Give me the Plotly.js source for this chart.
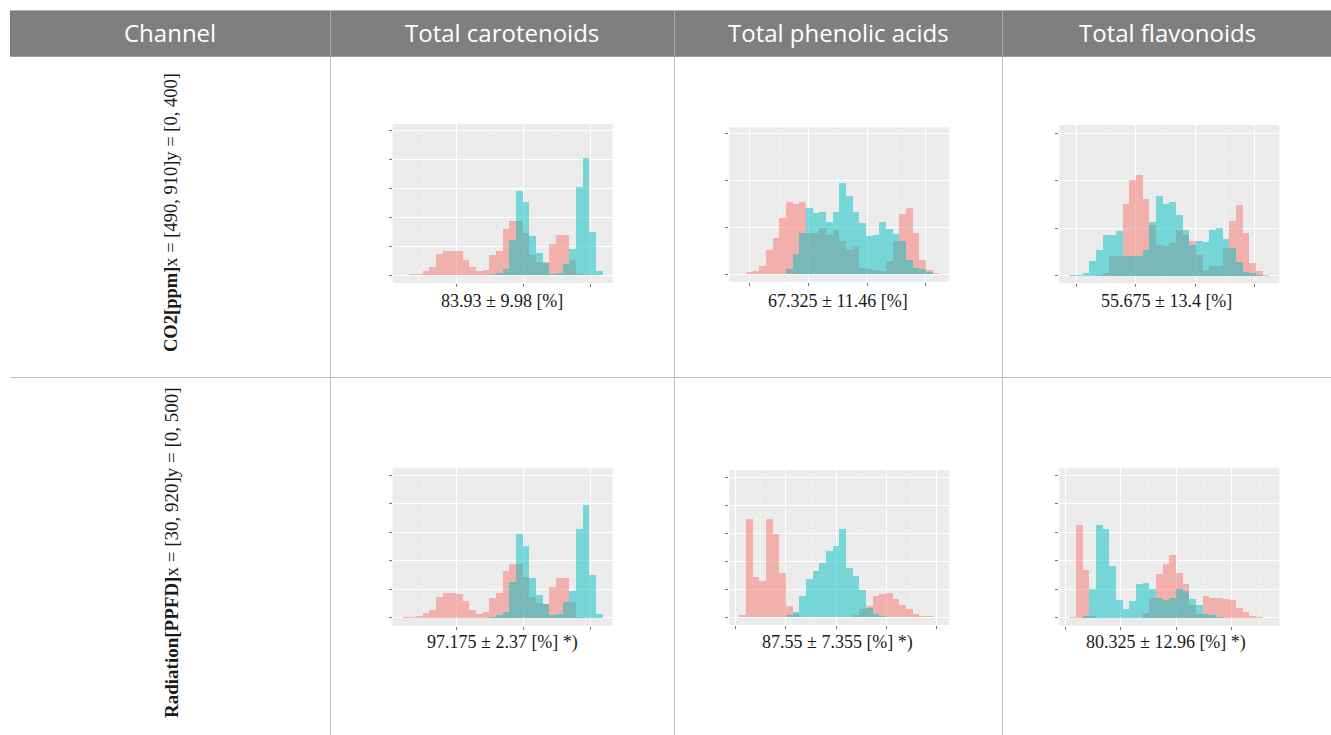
<!DOCTYPE html>
<html>
<head>
<meta charset="utf-8">
<script src="https://cdn.plot.ly/plotly-3.0.1.min.js"></script>
<style>
  html, body { margin: 0; padding: 0; background: #ffffff; }
  #chart { width: 1331px; height: 735px; }
</style>
</head>
<body>
<div id="chart"></div>
<script>
// Column headers and row channels of the comparison table
const headerLabels = ['Channel', 'Total carotenoids', 'Total phenolic acids', 'Total flavonoids'];
const channelLabels = [
  '<b>CO2[ppm]</b>x = [490, 910]y = [0, 400]',
  '<b>Radiation[PPFD]</b>x = [30, 920]y = [0, 500]'
];
const summaryCO2 = ['83.93 ± 9.98 [%]', '67.325 ± 11.46 [%]', '55.675 ± 13.4 [%]'];
const summaryRadiation = ['97.175 ± 2.37 [%] *)', '87.55 ± 7.355 [%] *)', '80.325 ± 12.96 [%] *)'];

// Histogram counts, 30 bins each (red = first group, cyan = second group)
const carotenoidsCO2Red  = [2,4,5,16,28,75,86,86,85,52,29,14,20,71,85,161,189,189,146,71,48,45,108,140,140,54,5,0,0,0];
const carotenoidsCO2Cyan = [0,0,0,0,0,0,0,0,0,0,0,0,0,5,8,23,123,292,255,137,77,43,6,8,40,92,307,405,150,14];

const phenolicCO2Red  = [1,6,8,18,52,77,121,155,149,155,87,87,99,84,94,71,52,59,14,11,9,7,29,71,128,142,87,30,9,2];
const phenolicCO2Cyan = [0,0,0,0,0,0,0,11,43,87,142,131,132,111,132,195,167,133,109,82,84,111,96,86,71,30,13,11,6,0];

const flavonoidsCO2Red  = [0,0,0,0,2,6,41,41,151,202,211,161,108,65,63,69,97,86,74,44,13,20,21,58,116,149,91,27,11,2];
const flavonoidsCO2Cyan = [1,2,6,32,55,85,86,95,41,41,41,55,114,167,151,156,128,97,65,74,72,97,100,78,58,30,9,6,2,0];

const carotenoidsRadRed  = [2,3,7,15,27,74,85,85,83,58,27,13,19,70,85,164,187,187,144,74,50,48,109,141,141,56,4,0,0,0];
const carotenoidsRadCyan = [0,0,0,0,0,0,0,0,0,0,0,0,0,4,9,21,126,293,251,138,79,48,9,13,56,93,310,397,150,13];

const phenolicRadRed  = [8,351,146,131,351,298,157,40,11,1,0,0,0,0,0,0,0,8,30,40,76,82,88,64,46,29,11,6,4,2];
const phenolicRadCyan = [0,0,0,0,0,0,0,8,20,76,137,165,195,237,255,315,177,148,98,35,12,5,2,0,0,0,0,0,0,0];

const flavonoidsRadRed  = [2,325,167,6,0,0,0,0,0,0,0,18,71,155,190,220,159,118,47,15,76,70,71,68,64,35,21,6,4,1];
const flavonoidsRadCyan = [0,0,6,100,325,310,181,64,30,60,118,124,103,71,62,71,100,93,68,44,15,12,4,0,0,0,0,0,0,0];

// ---- page geometry (pixels) ----
const W = 1331, H = 735;
const px = x => x / W;
const py = y => 1 - y / H;

const RED = 'rgba(248,118,109,0.5)';
const CYAN = 'rgba(0,191,196,0.5)';

// panel boxes: left, right, top, bottom of the grey plotting area; y range; x tick start/step
const panels = [
  {red: carotenoidsCO2Red, cyan: carotenoidsCO2Cyan, x0: 392.7, x1: 612.7, top: 124,   bot: 283,   yr: [-26, 524], t0: 8.1,   dt: 10.05},
  {red: phenolicCO2Red,    cyan: phenolicCO2Cyan,    x0: 729.3, x1: 949.3, top: 127.3, bot: 281.7, yr: [-15.6, 313], t0: 1.6, dt: 8.8},
  {red: flavonoidsCO2Red,  cyan: flavonoidsCO2Cyan,  x0: 1059.3, x1: 1279.3, top: 125, bot: 283.3, yr: [-15.4, 317], t0: 1.1, dt: 8.88},
  {red: carotenoidsRadRed, cyan: carotenoidsRadCyan, x0: 392.7, x1: 612.7, top: 468.3, bot: 625.7, yr: [-28, 524], t0: 8.1,   dt: 10.05},
  {red: phenolicRadRed,    cyan: phenolicRadCyan,    x0: 729.3, x1: 949.3, top: 470,   bot: 625,   yr: [-27, 526], t0: -0.55, dt: 7.54},
  {red: flavonoidsRadRed,  cyan: flavonoidsRadCyan,  x0: 1059.3, x1: 1279.3, top: 468.3, bot: 625.7, yr: [-27, 524], t0: -0.55, dt: 8.3}
];

const traces = [];
const layout = {
  width: W, height: H,
  margin: {l: 0, r: 0, t: 0, b: 0, pad: 0},
  paper_bgcolor: '#ffffff',
  plot_bgcolor: '#EBEBEB',
  barmode: 'overlay',
  bargap: 0,
  showlegend: false,
  hovermode: false,
  shapes: [],
  annotations: []
};

panels.forEach((p, i) => {
  const n = i === 0 ? '' : String(i + 1);
  const xa = 'x' + n, ya = 'y' + n;
  const centers = p.red.map((_, k) => k + 0.5);
  traces.push({type: 'bar', x: centers, y: p.red, width: 1, xaxis: xa, yaxis: ya,
               marker: {color: RED, line: {width: 0}}, hoverinfo: 'skip'});
  traces.push({type: 'bar', x: centers, y: p.cyan, width: 1, xaxis: xa, yaxis: ya,
               marker: {color: CYAN, line: {width: 0}}, hoverinfo: 'skip'});

  layout['xaxis' + n] = {
    domain: [px(p.x0), px(p.x1)], anchor: ya, range: [-1.5, 31.5],
    tickmode: 'linear', tick0: p.t0, dtick: p.dt,
    showticklabels: false, ticks: 'outside', ticklen: 3, tickwidth: 1, tickcolor: '#7a7a7a',
    showgrid: true, gridcolor: '#ffffff', gridwidth: 1,
    minor: {tick0: p.t0, dtick: p.dt / 2, showgrid: true, gridcolor: '#F4F4F4', gridwidth: 0.6, ticks: ''},
    zeroline: false, showline: false, fixedrange: true
  };
  layout['yaxis' + n] = {
    domain: [py(p.bot), py(p.top)], anchor: xa, range: p.yr,
    tickmode: 'linear', tick0: 0, dtick: 100,
    showticklabels: false, ticks: 'outside', ticklen: 3, tickwidth: 1, tickcolor: '#7a7a7a',
    showgrid: true, gridcolor: '#ffffff', gridwidth: 1,
    minor: {tick0: 0, dtick: 50, showgrid: true, gridcolor: '#F4F4F4', gridwidth: 0.6, ticks: ''},
    zeroline: false, showline: false, fixedrange: true
  };
});

// ---- table frame ----
const line = (x0, y0, x1, y1, color, w) => ({
  type: 'line', xref: 'paper', yref: 'paper',
  x0: px(x0), y0: py(y0), x1: px(x1), y1: py(y1),
  line: {color: color, width: w}
});
layout.shapes.push({
  type: 'rect', xref: 'paper', yref: 'paper',
  x0: px(10), x1: px(1331), y0: py(10), y1: py(56),
  fillcolor: '#7f7f7f', line: {width: 0}, layer: 'below'
});
[330.5, 674.5, 1002.5].forEach(x => {
  layout.shapes.push(line(x, 10, x, 56, '#a8a8a8', 1));
  layout.shapes.push(line(x, 56, x, 735, '#bdbdbd', 1));
});
layout.shapes.push(line(10, 10.5, 1331, 10.5, '#b5b5b5', 1));
layout.shapes.push(line(10, 56.5, 1331, 56.5, '#9c9c9c', 1));
layout.shapes.push(line(10, 377.5, 1331, 377.5, '#bdbdbd', 1));

// ---- header text ----
const headerX = [170, 502, 838, 1167];
headerLabels.forEach((t, i) => {
  layout.annotations.push({
    xref: 'paper', yref: 'paper', x: px(headerX[i]), y: py(33),
    xanchor: 'center', yanchor: 'middle', showarrow: false, text: t,
    font: {family: '"Open Sans", "Noto Sans", sans-serif', size: 24, color: '#ffffff'}
  });
});

// ---- row channel labels (vertical) ----
const rowLabelY = [213, 553];
const rowLabelSize = [18.5, 19];
channelLabels.forEach((t, i) => {
  layout.annotations.push({
    xref: 'paper', yref: 'paper', x: px(171), y: py(rowLabelY[i]),
    xanchor: 'center', yanchor: 'middle', showarrow: false, textangle: -90, text: t,
    font: {family: '"Liberation Serif", "DejaVu Serif", serif', size: rowLabelSize[i], color: '#1a1a1a'}
  });
});

// ---- summary under each histogram ----
const colX = [502, 837.5, 1166];
summaryCO2.forEach((t, i) => {
  layout.annotations.push({
    xref: 'paper', yref: 'paper', x: px(colX[i]), y: py(301),
    xanchor: 'center', yanchor: 'middle', showarrow: false, text: t,
    font: {family: '"Liberation Serif", "DejaVu Serif", serif', size: 18, color: '#1a1a1a'}
  });
});
summaryRadiation.forEach((t, i) => {
  layout.annotations.push({
    xref: 'paper', yref: 'paper', x: px(colX[i]), y: py(642),
    xanchor: 'center', yanchor: 'middle', showarrow: false, text: t,
    font: {family: '"Liberation Serif", "DejaVu Serif", serif', size: 18, color: '#1a1a1a'}
  });
});

Plotly.newPlot('chart', traces, layout, {staticPlot: true, displayModeBar: false});
</script>
</body>
</html>
